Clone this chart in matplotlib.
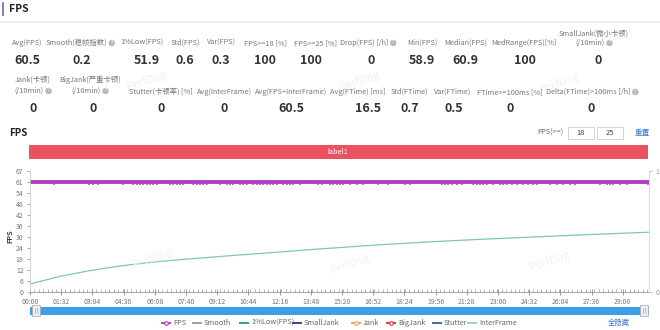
import matplotlib
matplotlib.use('Agg')
import matplotlib.pyplot as plt
from matplotlib.patches import Rectangle
from matplotlib.lines import Line2D
from matplotlib.ticker import MultipleLocator
import numpy as np

plt.rcParams['font.family'] = ['Noto Sans CJK SC', 'DejaVu Sans']

# ---- summary numbers ----
row1_labels = ['Avg(FPS)', 'Smooth(稳帧指数)', '1%Low(FPS)', 'Std(FPS)', 'Var(FPS)',
               'FPS>=18 [%]', 'FPS>=25 [%]', 'Drop(FPS) [/h]', 'Min(FPS)',
               'Median(FPS)', 'MedRange(FPS)[%]', 'SmallJank(微小卡顿)\n(/10min)']
row1_values = ['60.5', '0.2', '51.9', '0.6', '0.3', '100', '100', '0', '58.9',
               '60.9', '100', '0']
row1_help = [False, True, False, False, False, False, False, True, False,
             False, False, True]

row2_labels = ['Jank(卡顿)\n(/10min)', 'BigJank(严重卡顿)\n(/10min)', 'Stutter(卡顿率) [%]',
               'Avg(InterFrame)', 'Avg(FPS+InterFrame)', 'Avg(FTime) [ms]',
               'Std(FTime)', 'Var(FTime)', 'FTime>=100ms [%]', 'Delta(FTime)>100ms [/h]']
row2_values = ['0', '0', '0', '0', '60.5', '16.5', '0.7', '0.5', '0', '0']
row2_help = [True, True, False, False, False, False, False, False, False, True]

# ---- time series ----
duration = 1825  # seconds
x_tick_labels = ['00:00', '01:32', '03:04', '04:36', '06:08', '07:40', '09:12',
                 '10:44', '12:16', '13:48', '15:20', '16:52', '18:24', '19:56',
                 '21:28', '23:00', '24:32', '26:04', '27:36', '29:08']
y_tick_labels = ['0', '6', '12', '18', '24', '30', '36', '42', '48', '54', '61', '67']

fps_level = 60.5
fps_min = 58.9
fps_dip_times = [71, 175, 187, 201, 275, 305, 315, 324, 334, 344, 354, 364, 373,
                 413, 422, 432, 442, 452, 481, 491, 501, 511, 521, 560, 580, 590,
                 599, 619, 629, 639, 658, 668, 678, 688, 698, 708, 717, 727, 747,
                 757, 766, 776, 796, 850, 860, 884, 894, 904, 914, 924, 943, 963,
                 983, 1027, 1056, 1106, 1120, 1214, 1223, 1233, 1243, 1258, 1273,
                 1307, 1317, 1327, 1336, 1346, 1366, 1386, 1395, 1405, 1420, 1435,
                 1454, 1469, 1484, 1494, 1533, 1553, 1572, 1592, 1607, 1680, 1700,
                 1710, 1720, 1739, 1759, 1823]

curve_t = [0, 88, 177, 265, 354, 442, 531, 619, 708, 796, 884, 1032, 1179,
           1327, 1474, 1621, 1825]
curve_v = [4.4, 8.6, 11.8, 14.3, 16.3, 17.8, 19.1, 20.4, 21.6, 22.9, 24.1,
           26.0, 27.6, 29.0, 30.2, 31.4, 32.9]

legend_names = ['FPS', 'Smooth', '1%Low(FPS)', 'SmallJank', 'Jank', 'BigJank',
                'Stutter', 'InterFrame']
legend_colors = ['#b040c0', '#8fa89f', '#2aa58f', '#4b3f8f', '#f0a35a', '#d9363e',
                 '#4a6b8c', '#8fd8d0']
legend_marker = [True, False, False, False, True, True, False, False]

W, H = 660, 330
fig = plt.figure(figsize=(W / 100, H / 100), dpi=100)
fig.patch.set_facecolor('white')


def px(x, y):
    return x / W, 1 - y / H


def help_icon(x, y):
    fig.text(*px(x, y), '?', fontsize=3.5, color='white', ha='center', va='center',
             bbox=dict(boxstyle='circle,pad=0.15', fc='#b8b8b8', ec='none'))


# header
fig.add_artist(Line2D([3 / W, 3 / W], [1 - 3 / H, 1 - 15 / H], color='#5b6bbf', lw=1.2))
fig.text(*px(9, 9), 'FPS', fontsize=7.5, weight='bold', color='#222', va='center')
fig.add_artist(Line2D([0, 1], [1 - 22 / H, 1 - 22 / H], color='#f0f0f0', lw=1.5))

renderer = fig.canvas.get_renderer()


def stat_block(labels, values, helps, lx, vx, y_single, y_two, y_val):
    for lab, val, hlp, x, xv in zip(labels, values, helps, lx, vx):
        lines = lab.split('\n')
        ys = [y_single] if len(lines) == 1 else y_two
        for i, (line, yy) in enumerate(zip(lines, ys)):
            last = i == len(lines) - 1
            shift = -4 if (hlp and last) else 0
            t = fig.text(*px(x + shift, yy), line, fontsize=5.3, color='#777',
                         ha='center', va='center')
            if hlp and last:
                bb = t.get_window_extent(renderer)
                help_icon(bb.x1 + 5, yy)
        fig.text(*px(xv, y_val), val, fontsize=9, weight='bold', color='#333',
                 ha='center', va='center')


row1_x = [27, 80, 142, 185, 221, 265, 315, 368, 422, 466, 524, 594]
row1_vx = [27, 82, 147, 185, 221, 265, 311, 371, 422, 465, 525, 598]
stat_block(row1_labels, row1_values, row1_help, row1_x, row1_vx, 43, [34, 43], 61)

row2_x = [33, 90, 161, 224, 291, 358, 409, 453, 510, 592]
row2_vx = [33, 93, 161, 224, 291, 368, 410, 454, 510, 591]
stat_block(row2_labels, row2_values, row2_help, row2_x, row2_vx, 92, [80, 91], 109)

# chart title row
fig.text(*px(9, 133), 'FPS', fontsize=7, weight='bold', color='#222', va='center')
fig.text(*px(550, 133), 'FPS(>=)', fontsize=5.3, color='#666', ha='center', va='center')
for bx, txt in [(568, '18'), (597, '25')]:
    fig.add_artist(Rectangle(px(bx, 139), 26 / W, 12 / H, transform=fig.transFigure,
                             fc='white', ec='#cccccc', lw=0.6))
    fig.text(*px(bx + 13, 133), txt, fontsize=5.5, color='#444', ha='center', va='center')
fig.text(*px(642, 133), '重置', fontsize=5.5, color='#3a7bd5', ha='center', va='center')

# label band
fig.add_artist(Rectangle(px(29, 159), 619 / W, 14 / H, transform=fig.transFigure,
                         fc='#e9525e', ec='none'))
fig.text(*px(338, 152), 'label1', fontsize=5.3, color='white', ha='center', va='center')

# main plot
ax = fig.add_axes([30 / W, 1 - 292 / H, 619 / W, 121 / H])
ymax = 66.6
ax.set_xlim(0, duration)
ax.set_ylim(0, ymax)

ax.plot(curve_t, curve_v, color='#7cc6bd', lw=0.9)
ax.plot([0, duration], [fps_level, fps_level], color='#b33fc0', lw=2.8,
        solid_capstyle='butt')
ax.vlines(fps_dip_times, fps_min, fps_level, color='#b33fc0', lw=1.1)

ax.set_yticks(np.arange(len(y_tick_labels)) * ymax / (len(y_tick_labels) - 1))
ax.set_yticklabels(y_tick_labels)
ax.set_xticks(np.arange(len(x_tick_labels)) * 92)
ax.set_xticklabels(x_tick_labels)
ax.xaxis.set_minor_locator(MultipleLocator(13))
ax.tick_params(axis='y', labelsize=5, colors='#888', length=2.5, width=0.5, pad=2)
ax.tick_params(axis='x', which='major', labelsize=5, colors='#888', length=4,
               width=0.6, direction='inout', pad=2)
ax.tick_params(axis='x', which='minor', length=2.5, width=0.5, color='#8f9f8f',
               direction='in')
for lab in ax.get_xticklabels() + ax.get_yticklabels():
    lab.set_color('#777')
ax.spines['top'].set_visible(False)
ax.spines['left'].set_color('#cccccc')
ax.spines['bottom'].set_color('#999999')
ax.spines['right'].set_color('#dddddd')
for s in ax.spines.values():
    s.set_linewidth(0.6)

ax2 = ax.twinx()
ax2.set_ylim(0, 1)
ax2.set_yticks([0, 1])
ax2.set_yticklabels(['0', '1'])
ax2.tick_params(axis='y', labelsize=5, colors='#999', length=2.5, width=0.5, pad=2)
for s in ['top', 'left', 'bottom']:
    ax2.spines[s].set_visible(False)
ax2.spines['right'].set_color('#dddddd')
ax2.spines['right'].set_linewidth(0.6)

fig.text(*px(10, 236), 'FPS', fontsize=5.3, weight='bold', color='#444',
         rotation=90, ha='center', va='center')

# watermarks
for wx, wy in [(147, 80), (360, 80), (560, 82), (153, 258), (350, 263), (550, 260)]:
    fig.text(*px(wx, wy), 'PerfDog', fontsize=8, color='#f1f1f1', rotation=18,
             ha='center', va='center', style='italic', zorder=0)

# zoom slider
fig.add_artist(Rectangle(px(30, 315), 619 / W, 8 / H, transform=fig.transFigure,
                         fc='#3d9fe5', ec='none'))
for hx in [32, 640]:
    fig.add_artist(Rectangle(px(hx, 316), 8 / W, 11 / H, transform=fig.transFigure,
                             fc='#eeeeee', ec='#a8a8a8', lw=0.5))
    for dx in (3, 5):
        fig.add_artist(Line2D([(hx + dx) / W] * 2, [1 - 308 / H, 1 - 313 / H],
                              color='#999', lw=0.4))

# legend
legend_x = [162, 193, 240, 293, 352, 387, 433, 468]
for name, col, mk, lx in zip(legend_names, legend_colors, legend_marker, legend_x):
    y = 1 - 323 / H
    fig.add_artist(Line2D([lx / W, (lx + 8) / W], [y, y], color=col, lw=1.4,
                          transform=fig.transFigure))
    if mk:
        fig.add_artist(Line2D([(lx + 4) / W], [y], marker='o', ms=2.6, mfc='white',
                              mec=col, mew=0.8, transform=fig.transFigure))
    fig.text((lx + 11) / W, y, name, fontsize=5.3, color='#666', va='center')
fig.text(*px(619, 323), '全隐藏', fontsize=5.3, color='#3a7bd5', ha='center', va='center')

fig.savefig('out.png', dpi=100, facecolor='white')
